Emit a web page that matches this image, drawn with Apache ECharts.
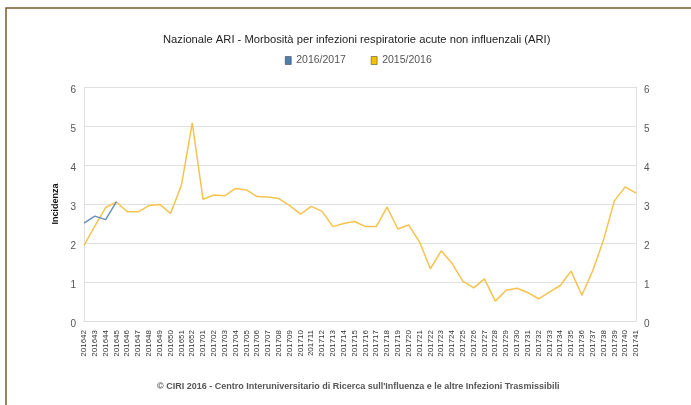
<!DOCTYPE html>
<html>
<head>
<meta charset="utf-8">
<script src="https://cdn.jsdelivr.net/npm/echarts@6/dist/echarts.min.js"></script>
<style>html,body{margin:0;padding:0;background:#fff}#c{width:691px;height:405px}</style>
</head>
<body>
<div id="c"></div>
<script>
const weeks = ['201642','201643','201644','201645','201646','201647','201648','201649','201650','201651','201652',
'201701','201702','201703','201704','201705','201706','201707','201708','201709','201710','201711','201712','201713','201714','201715','201716','201717','201718','201719','201720','201721','201722','201723','201724','201725','201726','201727','201728','201729','201730','201731','201732','201733','201734','201735','201736','201737','201738','201739','201740','201741'];
const season1617 = [2.51, 2.69, 2.60, 3.06];
const season1516 = [1.94, 2.43, 2.91, 3.05, 2.80, 2.80, 2.96, 2.99, 2.76, 3.48, 5.08,
  3.12, 3.23, 3.21, 3.40, 3.36, 3.19, 3.18, 3.14, 2.96, 2.74, 2.94, 2.81, 2.42, 2.50,
  2.55, 2.42, 2.42, 2.92, 2.36, 2.46, 2.03, 1.34, 1.80, 1.48, 1.02, 0.85, 1.08, 0.51,
  0.79, 0.84, 0.73, 0.57, 0.74, 0.91, 1.28, 0.66, 1.29, 2.08, 3.08, 3.44, 3.28];
const yTicks = [0, 1, 2, 3, 4, 5, 6];

const font = '"Liberation Sans Narrow", "Liberation Sans", Arial, sans-serif';
const chart = echarts.init(document.getElementById('c'));
const yAxisBase = {
  type: 'value', min: yTicks[0], max: yTicks[yTicks.length - 1], interval: 1,
  axisLine: { show: false }, axisTick: { show: false },
  axisLabel: { color: '#555', fontSize: 10, fontFamily: 'Arial, Liberation Sans, sans-serif', margin: 8, verticalAlign: 'top', padding: [-2, 0, 0, 0] },
  splitLine: { lineStyle: { color: '#e0e0e0', width: 1 } }
};
chart.setOption({
  animation: false,
  title: {
    text: 'Nazionale ARI - Morbosità per infezioni respiratorie acute non influenzali (ARI)',
    left: 158, top: 29,
    textStyle: { fontFamily: font, fontSize: 11.2, fontWeight: 'normal', color: '#222' }
  },
  legend: {
    top: 50, left: 280, itemGap: 25, itemWidth: 6, itemHeight: 8,
    icon: 'rect',
    textStyle: { fontFamily: font, fontSize: 10.5, color: '#555', padding: [7, 0, 0, 0] },
    data: [
      { name: '2016/2017', itemStyle: { color: '#4f7fae', borderColor: '#333', borderWidth: 0.5 } },
      { name: '2015/2016', itemStyle: { color: '#f5c000', borderColor: '#333', borderWidth: 0.5 } }
    ]
  },
  grid: { left: 84, right: 55, top: 87, bottom: 84 },
  xAxis: {
    type: 'category', data: weeks, boundaryGap: false,
    axisLine: { show: true, lineStyle: { color: '#ddd' } },
    axisTick: { show: false },
    axisLabel: { rotate: 90, interval: 0, fontSize: 8, color: '#333', fontFamily: 'Arial, Liberation Sans, sans-serif', margin: 9 },
    splitLine: { show: false }
  },
  yAxis: [
    Object.assign({}, yAxisBase, {
      position: 'left', name: 'Incidenza', nameLocation: 'middle', nameGap: 17,
      nameTextStyle: { fontFamily: font, fontSize: 9, fontWeight: 'bold', color: '#111' },
      axisLine: { show: true, lineStyle: { color: '#e0e0e0' } }
    }),
    Object.assign({}, yAxisBase, {
      position: 'right', splitLine: { show: false },
      axisLine: { show: true, lineStyle: { color: '#e0e0e0' } }
    })
  ],
  series: [
    { name: '2016/2017', type: 'line', data: season1617, showSymbol: false, symbol: 'none',
      lineStyle: { color: '#6a90b6', width: 1.5 }, itemStyle: { color: '#4f7fae' }, z: 3 },
    { name: '2015/2016', type: 'line', data: season1516, showSymbol: false, symbol: 'none',
      lineStyle: { color: '#f5c34e', width: 1.5 }, itemStyle: { color: '#f5c000' }, z: 2 }
  ],
  graphic: [
    { type: 'rect', shape: { x: 6, y: 8, width: 690, height: 410 },
      style: { fill: 'none', stroke: '#7a5a30', lineWidth: 1.5 }, silent: true },
    { type: 'text', left: 157, top: 382,
      style: { text: '© CIRI 2016 - Centro Interuniversitario di Ricerca sull\'Influenza e le altre Infezioni Trasmissibili',
        fontFamily: font, fontSize: 9, fontWeight: 'bold', fill: '#555' } }
  ]
});
</script>
</body>
</html>
